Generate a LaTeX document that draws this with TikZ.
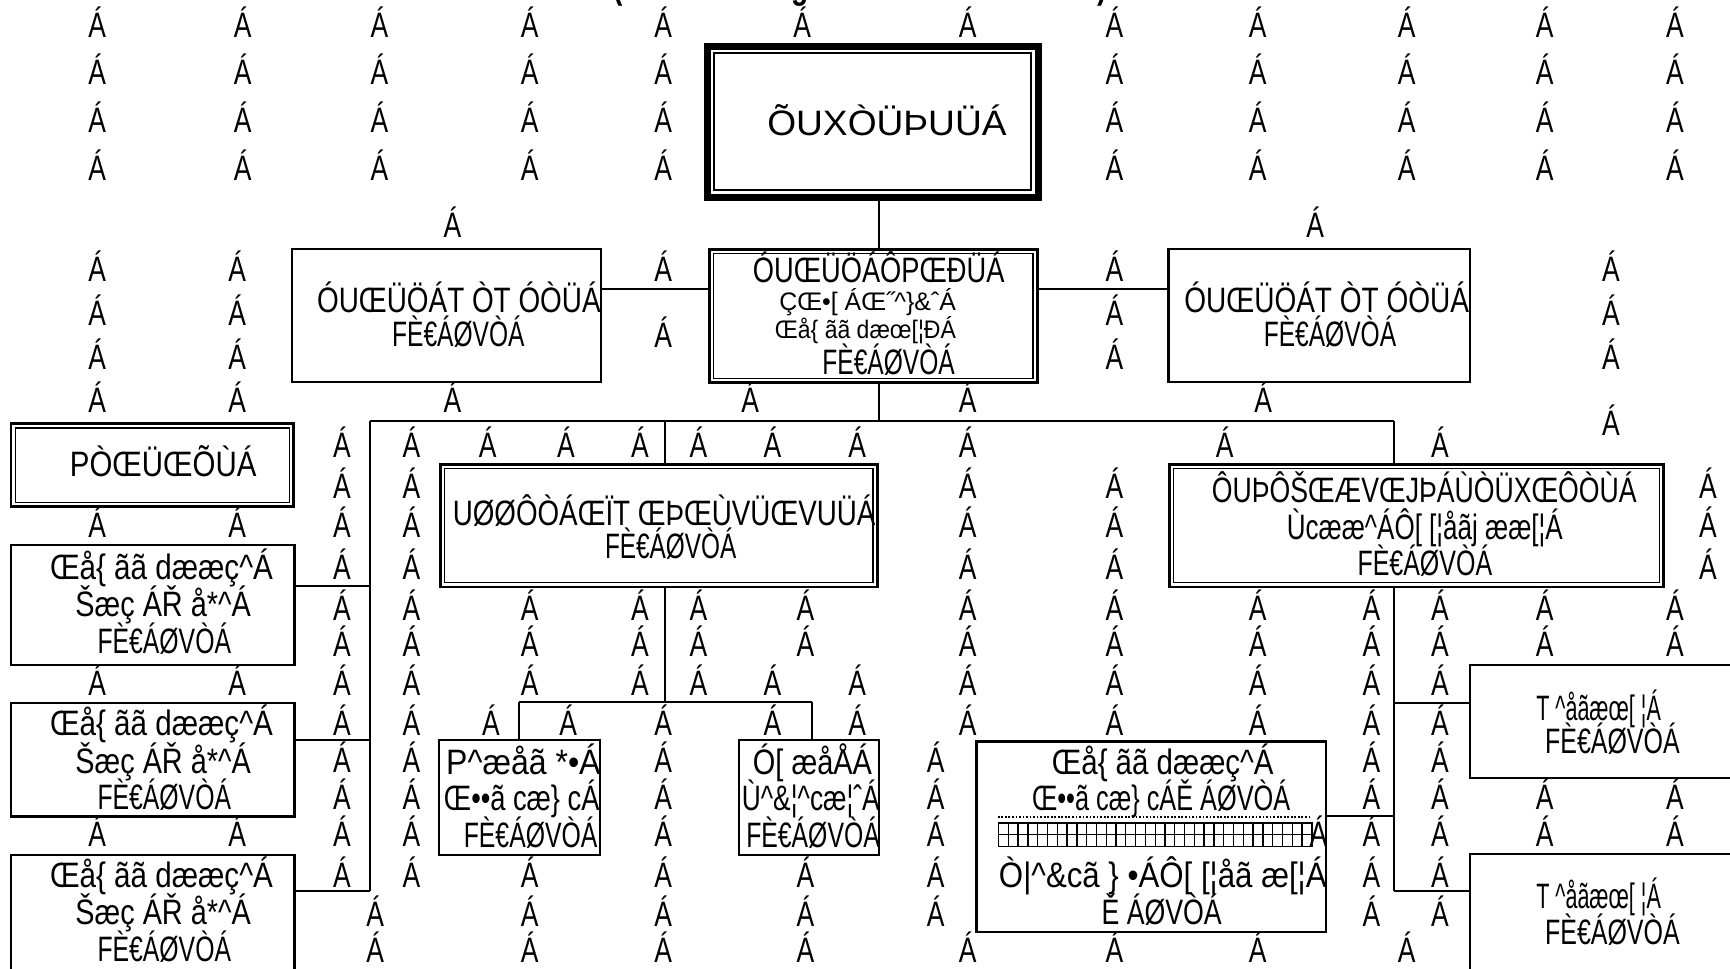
\documentclass[tikz,border=0pt]{standalone}
\usepackage{fontspec}
\setmainfont{Liberation Sans}[FakeStretch=0.75]
\usetikzlibrary{fit}
\newcommand\crt{\textasciicircum}
\newcommand\fw[2]{\resizebox{#1pt}{\height}{#2}}
\newcommand\innerbox[3]{\draw[line width=#3] ([shift={(#2,-#2)}]#1.north west) rectangle ([shift={(-#2,#2)}]#1.south east);}
\tikzset{
  gl/.style={anchor=base, inner sep=0pt, font=\fontsize{16}{18}\selectfont},
  tx/.style={anchor=base west, inner sep=0pt, font=\fontsize{16}{18}\selectfont},
  sm/.style={anchor=base west, inner sep=0pt, font=\fontsize{11.5}{13}\selectfont},
  bx/.style={draw, line width=1pt, inner sep=0pt},
  dbx/.style={draw, line width=1.3pt, inner sep=0pt, outer sep=0pt},
  mainbx/.style={draw, line width=3.2pt, inner sep=0pt, outer sep=0pt},
  ln/.style={line width=0.9pt},
}
\begin{document}
\begin{tikzpicture}[x=0.5pt,y=-0.5pt]
\useasboundingbox (0,0) rectangle (1568,878);

% title (only lower part visible)
\node[anchor=base west, inner sep=0pt, font=\bfseries\fontsize{17}{19}\selectfont] (title) at (560,-1)
  {\makebox[0pt]{(}\hspace*{82.5pt}\makebox[0pt]{g}\hspace*{137pt}\makebox[0pt]{)}};

% grid of letters
\foreach \yy/\xs in {
  22/{88,220,344,480,601,727,877,1010,1140,1275,1400,1518},
  65/{88,220,344,480,601,1010,1140,1275,1400,1518},
  108/{88,220,344,480,601,1010,1140,1275,1400,1518},
  152/{88,220,344,480,601,1010,1140,1275,1400,1518},
  203/{410,1192},
  243/{88,215,601,1010,1460},
  283/{88,215,1010,1460},
  303/{601},
  323/{88,215,1010,1460},
  362/{88,215,410,680,877,1145},
  383/{1460},
  403/{310,373,442,513,580,633,700,777,877,1110,1305},
  440/{310,373,877,1010,1548},
  475/{88,215,310,373,877,1010,1548},
  513/{310,373,877,1010,1548},
  550/{310,373,480,580,633,730,877,1010,1140,1243,1305,1400,1518},
  583/{310,373,480,580,633,730,877,1010,1140,1243,1305,1400,1518},
  618/{88,215,310,373,480,580,633,700,777,877,1010,1140,1243,1305},
  655/{310,373,445,515,601,700,777,877,1010,1140,1243,1305},
  688/{310,373,601,848,1243,1305},
  722/{310,373,601,848,1243,1305,1400,1518},
  755/{88,215,310,373,601,848,1243,1305,1400,1518},
  792/{310,373,480,601,730,848,1243,1305},
  828/{340,480,601,730,848,1243,1305},
  860/{340,480,601,730,877,1010,1140,1275}}{
  \foreach \xx in \xs {\node[gl] (g-\xx-\yy) at (\xx,\yy+12) {Á};}
}

% boxes
\node[mainbx, fit={(641,42) (941,179)}] (main) {};
\innerbox{main}{3.2pt}{0.9pt}
\node[bx, fit={(265,226) (545,346)}] (L2) {};
\node[dbx, fit={(643,226) (940,347)}] (C2) {};
\innerbox{C2}{1.9pt}{0.6pt}
\node[bx, fit={(1059,226) (1332,346)}] (R2) {};
\node[dbx, fit={(10,384) (266,459)}] (PO) {};
\innerbox{PO}{1.9pt}{0.6pt}
\node[bx, fit={(10,494) (267,603)}] (LB1) {};
\node[bx, fit={(10,637) (267,740)}] (LB2) {};
\node[bx, fit={(10,775) (267,890)}] (LB3) {};
\node[dbx, fit={(399,421) (795,532)}] (M) {};
\innerbox{M}{1.9pt}{0.6pt}
\node[dbx, fit={(1060,421) (1508,532)}] (RB) {};
\innerbox{RB}{1.9pt}{0.6pt}
\node[bx, fit={(398,671) (544,775)}] (SB1) {};
\node[bx, fit={(670,671) (797,775)}] (SB2) {};
\node[bx, fit={(885,672) (1202,845)}] (BM) {};
\node[bx, fit={(1332,603) (1580,705)}] (TR1) {};
\node[bx, fit={(1332,774) (1580,890)}] (TR2) {};

% texts
\node[tx] (t-main) at (695,123) {\fw{108.5}{ÕUXÒÜÞUÜÁ}};
\node[tx] (t-L2a) at (287,283) {\fw{128.5}{ÓUŒÜÖÁT ÒT ÓÒÜÁ}};
\node[tx] (t-L2b) at (355,314) {\fw{60}{FÈ€ÁØVÒÁ}};
\node[tx] (t-R2a) at (1073,283) {\fw{129}{ÓUŒÜÖÁT ÒT ÓÒÜÁ}};
\node[tx] (t-R2b) at (1145,314) {\fw{60}{FÈ€ÁØVÒÁ}};
\node[tx] (t-C2a) at (682,256) {\fw{114}{ÓUŒÜÖÁÔPŒÐÜÁ}};
\node[sm] (t-C2b) at (706,281) {\fw{80}{ÇŒ•[ ÁŒ˝\crt\}\&ˆÁ}};
\node[sm] (t-C2c) at (702,307) {\fw{82}{Œå\{ ãã dæœ[¦ÐÁ}};
\node[tx] (t-C2d) at (745,339) {\fw{60}{FÈ€ÁØVÒÁ}};
\node[tx] (t-PO) at (63,432) {\fw{84.5}{PÒŒÜŒÕÙÁ}};
\foreach \n/\yb in {1/0,2/142,3/279}{
  \node[tx] (t-LB\n a) at (45,525+\yb) {\fw{101}{Œå\{ ãã dææç\crt{}Á}};
  \node[tx] (t-LB\n b) at (68,559+\yb) {\fw{79.5}{Šæç ÁŘ å*\crt{}Á}};
  \node[tx] (t-LB\n c) at (88,592+\yb) {\fw{60.5}{FÈ€ÁØVÒÁ}};
}
\node[tx] (t-Ma) at (410,476) {\fw{191.5}{UØØÔÒÁŒÏT ŒÞŒÙVÜŒVUÜÁ}};
\node[tx] (t-Mb) at (548,506) {\fw{59.5}{FÈ€ÁØVÒÁ}};
\node[tx] (t-RBa) at (1098,455) {\fw{192.5}{ÔUÞÔŠŒÆVŒJÞÁÙÒÜXŒÔÒÙÁ}};
\node[tx] (t-RBb) at (1166,489) {\fw{125}{Ùcææ\crt{}ÁÔ[ [¦åãj ææ[¦Á}};
\node[tx] (t-RBc) at (1230,522) {\fw{61}{FÈ€ÁØVÒÁ}};
\node[tx] (t-SB1a) at (404,702) {\fw{70}{P\crt{}æåã *•Á}};
\node[tx] (t-SB1b) at (402,735) {\fw{70.5}{Œ••ã cæ\} cÁ}};
\node[tx] (t-SB1c) at (420,768) {\fw{60.5}{FÈ€ÁØVÒÁ}};
\node[tx] (t-SB2a) at (682,702) {\fw{54}{Ó[ æåÅÁ}};
\node[tx] (t-SB2b) at (672,735) {\fw{62.5}{Ù\crt{}\&¦\crt{}cæ¦ˆÁ}};
\node[tx] (t-SB2c) at (676,768) {\fw{60.5}{FÈ€ÁØVÒÁ}};
\node[tx] (t-BMa) at (953,702) {\fw{100.5}{Œå\{ ãã dææç\crt{}Á}};
\node[tx] (t-BMb) at (935,735) {\fw{117}{Œ••ã cæ\} cÁĚ ÁØVÒÁ}};
\node[tx] (t-BMd) at (905,804) {\fw{148.5}{Ò|\crt{}\&cã \} •ÁÔ[ [¦åã æ[¦Á}};
\node[tx] (t-BMe) at (998,838) {\fw{54.5}{Ě ÁØVÒÁ}};
\node[tx] (t-TR1a) at (1392,653) {\fw{56.5}{T \crt{}åãæœ[ ¦Á}};
\node[tx] (t-TR1b) at (1400,683) {\fw{61}{FÈ€ÁØVÒÁ}};
\node[tx] (t-TR2a) at (1392,823) {\fw{56.5}{T \crt{}åãæœ[ ¦Á}};
\node[tx] (t-TR2b) at (1400,856) {\fw{61}{FÈ€ÁØVÒÁ}};

% row of boxes in BM
\node[draw, line width=0.6pt, inner sep=0pt, fit={(905,746) (1189,767)}] (hb) {};
\foreach \i in {1,...,31}{\draw[line width=0.6pt] (905+\i*8.875,746) -- (905+\i*8.875,767);}
\draw[line width=0.6pt] (hb.west) -- (hb.east);
\draw[line width=0.8pt, dash pattern=on 0.8pt off 0.8pt] (hb.north west)++(0,2.5pt) -- ++(142pt,0);
\node[gl] (hbA) at (1195,767) {Á};

% connectors
\coordinate (yA) at (0,262);
\coordinate (bL) at (335,382);
\coordinate (bC) at (797,382);
\coordinate (bM) at (603,382);
\coordinate (bR) at (1263,382);
\coordinate (j1) at (335,531);
\coordinate (j2) at (335,671);
\coordinate (j3) at (335,808);
\coordinate (s0) at (603,636);
\coordinate (s1) at (470,636);
\coordinate (s2) at (736,636);
\coordinate (r1) at (1263,637);
\coordinate (r2) at (1263,740);
\coordinate (r3) at (1263,808);

\draw[ln] (main.south -| bC) -- (C2.north -| bC);
\draw[ln] (L2.east |- yA) -- (C2.west |- yA);
\draw[ln] (C2.east |- yA) -- (R2.west |- yA);
\draw[ln] (C2.south -| bC) -- (bC);
\draw[ln] (bL) -- (bR);
\draw[ln] (bL) -- (j3);
\draw[ln] (LB1.east |- j1) -- (j1);
\draw[ln] (LB2.east |- j2) -- (j2);
\draw[ln] (LB3.east |- j3) -- (j3);
\draw[ln] (bM) -- (M.north -| bM);
\draw[ln] (M.south -| bM) -- (s0);
\draw[ln] (s1) -- (s2);
\draw[ln] (s1) -- (SB1.north -| s1);
\draw[ln] (s2) -- (SB2.north -| s2);
\draw[ln] (bR) -- (RB.north -| bR);
\draw[ln] (RB.south -| bR) -- (r3);
\draw[ln] (r1) -- (TR1.west |- r1);
\draw[ln] (BM.east |- r2) -- (r2);
\draw[ln] (r3) -- (TR2.west |- r3);
\end{tikzpicture}
\end{document}
